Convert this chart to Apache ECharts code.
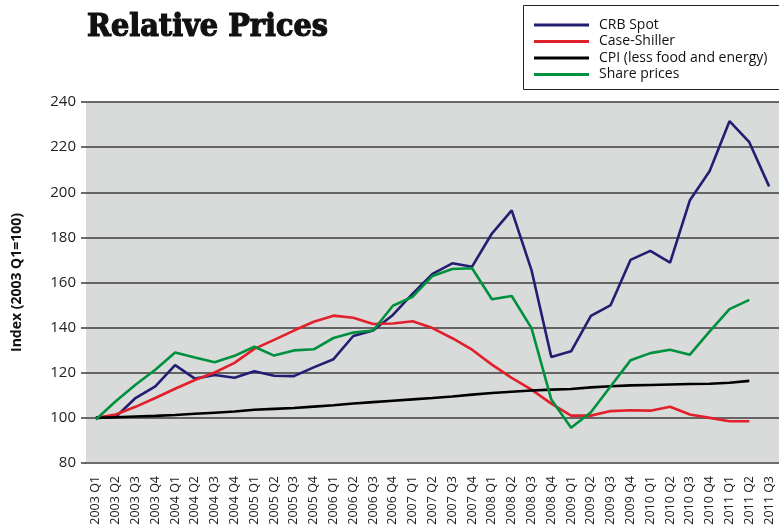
<!DOCTYPE html>
<html>
<head>
<meta charset="utf-8">
<script src="https://cdn.jsdelivr.net/npm/echarts@6/dist/echarts.min.js"></script>
<style>
html,body{margin:0;padding:0;background:#fff;}
#chart{width:779px;height:532px;}
</style>
</head>
<body>
<div id="chart"></div>
<script>
var categories = [
  "2003 Q1","2003 Q2","2003 Q3","2003 Q4",
  "2004 Q1","2004 Q2","2004 Q3","2004 Q4",
  "2005 Q1","2005 Q2","2005 Q3","2005 Q4",
  "2006 Q1","2006 Q2","2006 Q3","2006 Q4",
  "2007 Q1","2007 Q2","2007 Q3","2007 Q4",
  "2008 Q1","2008 Q2","2008 Q3","2008 Q4",
  "2009 Q1","2009 Q2","2009 Q3","2009 Q4",
  "2010 Q1","2010 Q2","2010 Q3","2010 Q4",
  "2011 Q1","2011 Q2","2011 Q3"
];
var crbSpot = [100,100.4,108.8,114,123.4,117.4,119,117.8,120.7,118.7,118.5,122.4,126,136.3,138.7,145.6,155.1,163.8,168.5,167,181.7,192,165.5,127,129.5,145.2,150,170,174,168.8,196.5,209.4,231.5,222.2,202.6];
var caseShiller = [100,101.5,104.9,108.8,112.9,116.8,120.1,124.4,130.6,134.6,138.7,142.6,145.3,144.4,141.6,141.8,142.8,139.8,135.3,130.2,123.6,117.7,112.5,106.3,101,101,103,103.4,103.2,104.9,101.5,100,98.5,98.5,null];
var cpiCore = [100,100.3,100.6,100.9,101.3,101.8,102.3,102.8,103.6,104,104.4,105,105.6,106.4,107,107.6,108.2,108.8,109.5,110.3,111,111.6,112.1,112.5,112.8,113.5,114,114.4,114.6,114.8,115,115.1,115.6,116.4,null];
var sharePrices = [99.3,107.4,114.7,121.3,129,126.8,124.7,127.5,131.5,127.6,129.9,130.4,135.4,137.8,138.7,149.7,153.7,162.9,166,166.3,152.6,154,139.8,108.1,95.6,102.5,114,125.5,128.7,130.2,128,138.3,148.2,152.3,null];
var seriesNames = ["CRB Spot","Case-Shiller","CPI (less food and energy)","Share prices"];
var seriesColors = ["#221f73","#e2202b","#000000","#00913f"];
var yTicks = {min:80, max:240, interval:20};

var chart = echarts.init(document.getElementById('chart'), null, {renderer:'canvas'});
var dataSets = [crbSpot, caseShiller, cpiCore, sharePrices];
var series = dataSets.map(function(d, i){
  return {
    name: seriesNames[i],
    type: 'line',
    data: d,
    symbol: 'none',
    connectNulls: false,
    lineStyle: {color: seriesColors[i], width: 2.6},
    itemStyle: {color: seriesColors[i]},
    z: 3 + i
  };
});
chart.setOption({
  animation: false,
  backgroundColor: '#ffffff',
  title: {
    text: 'Relative Prices',
    left: 82, top: 7,
    textStyle: {fontFamily: 'DejaVu Serif Condensed, DejaVu Serif', fontWeight: 'bold', fontSize: 32, color: '#111',
      textBorderColor: '#111', textBorderWidth: 1.2}
  },
  graphic: [{
    type: 'rect', z: 0,
    shape: {x: 523.5, y: 5.5, width: 270, height: 84},
    style: {fill: '#fff', stroke: '#222', lineWidth: 1}
  }],
  legend: {
    orient: 'vertical',
    left: 534, top: 18,
    itemWidth: 55, itemHeight: 3,
    itemGap: 2.5,
    icon: 'rect',
    padding: 0,
    data: seriesNames,
    textStyle: {fontFamily: 'Open Sans', fontSize: 14, color: '#111', padding: [0,0,0,5], lineHeight: 14}
  },
  grid: {left: 86, right: -6, top: 102, bottom: 69, backgroundColor: '#d9dada', show: true, borderWidth: 0},
  xAxis: {
    type: 'category',
    data: categories,
    boundaryGap: true,
    axisLine: {show: true, lineStyle: {color: '#6e6e6e', width: 2}},
    axisTick: {show: false},
    axisLabel: {rotate: 90, interval: 0, fontFamily: 'Open Sans', fontSize: 12.5, color: '#222', margin: 13}
  },
  yAxis: {
    type: 'value',
    min: yTicks.min, max: yTicks.max, interval: yTicks.interval,
    name: 'Index (2003 Q1=100)',
    nameLocation: 'middle',
    nameGap: 62,
    nameTextStyle: {fontFamily: 'Open Sans', fontWeight: 'bold', fontSize: 14, color: '#111'},
    axisLine: {show: false},
    axisTick: {show: true, length: 5, lineStyle: {color: '#3c3c3c', width: 1.5}},
    splitLine: {show: true, lineStyle: {color: '#3c3c3c', width: 1.5}},
    axisLabel: {fontFamily: 'Open Sans', fontSize: 15, color: '#222', margin: 10}
  },
  series: series
});
</script>
</body>
</html>
